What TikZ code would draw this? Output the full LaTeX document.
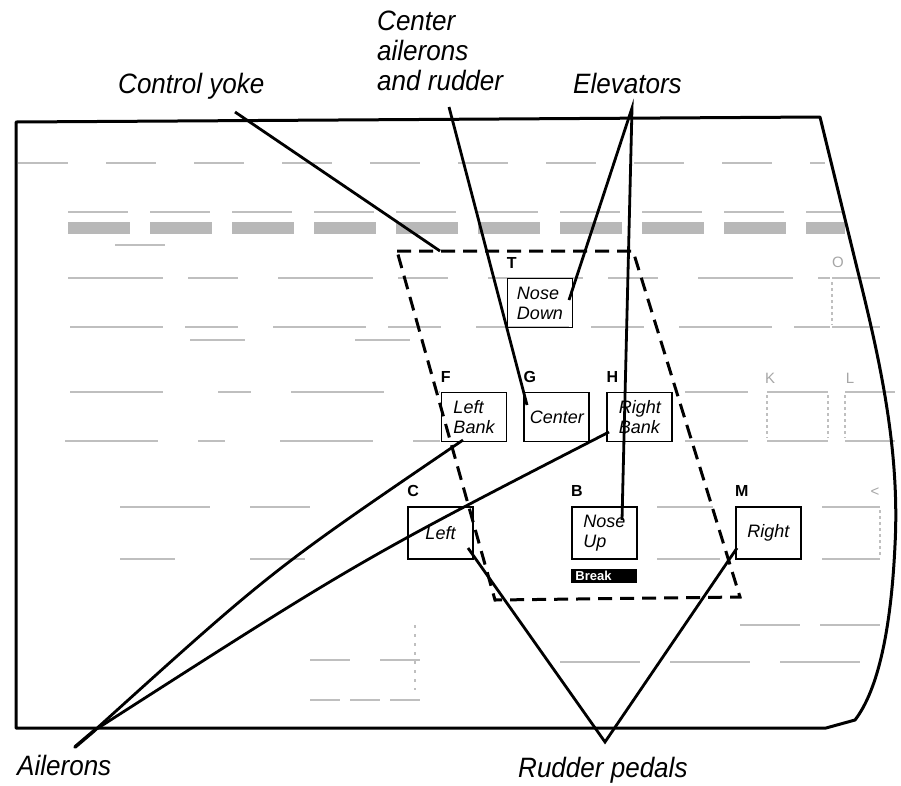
\documentclass[tikz,border=0pt]{standalone}
\usepackage{fontspec}
\setmainfont{Liberation Sans}
\newfontfamily\callfont[FakeStretch=0.93]{Liberation Sans}
\usepackage{tikz}
\usetikzlibrary{positioning}
\tikzset{
  keybox/.style={draw, line width=1.9pt, minimum width=65pt, minimum height=49pt,
                 inner sep=0pt, align=left, font=\itshape\fontsize{18}{20}\selectfont},
  lowkey/.style={minimum height=52pt},
  keyletter/.style={inner sep=0pt, font=\bfseries\fontsize{16}{16}\selectfont},
  breakbar/.style={fill=black, text=white, inner sep=0pt, minimum width=66pt,
                   minimum height=14pt, text width=58pt, align=left,
                   font=\bfseries\fontsize{13}{13}\selectfont},
  callout/.style={inner sep=0pt, font=\callfont\itshape\fontsize{28}{30}\selectfont},
  lead/.style={line width=2.8pt},
  yokeline/.style={line width=3pt, dash pattern=on 14pt off 8pt},
  rim/.style={line width=3pt, line join=round},
  faint/.style={draw=black!25, line width=1.1pt},
  faintkey/.style={text=black!35, inner sep=0pt, font=\fontsize{15}{15}\selectfont}
}

\begin{document}
\begin{tikzpicture}[x=1pt, y=-1pt]
\useasboundingbox (0,0) rectangle (901,785);

% faded keyboard behind the overlay
\draw[faint, dash pattern=on 50pt off 38pt] (18,163) -- (825,163);
\draw[faint, dash pattern=on 60pt off 22pt] (68,212) -- (845,212);
\draw[black!28, line width=12pt, dash pattern=on 62pt off 20pt] (68,228) -- (845,228);
\draw[faint] (115,245) -- (165,245);
\draw[faint, dash pattern=on 95pt off 25pt on 50pt off 40pt] (68,278) -- (830,278);
\draw[faint, dash pattern=on 93pt off 22pt on 53pt off 35pt] (70,327) -- (830,327);
\draw[faint, dash pattern=on 55pt off 110pt] (190,340) -- (420,340);
\draw[faint, dash pattern=on 93pt off 55pt on 33pt off 40pt] (70,392) -- (440,392);
\draw[faint, dash pattern=on 93pt off 40pt on 27pt off 55pt] (65,441) -- (440,441);
\draw[faint] (685,392) -- (748,392) (767,392) -- (828,392) (845,392) -- (895,392);
\draw[faint] (685,441) -- (748,441) (767,441) -- (828,441) (845,441) -- (895,441);
\draw[faint, dash pattern=on 3pt off 3pt] (767,395) -- (767,438) (828,395) -- (828,438)
  (845,395) -- (845,438) (832,282) -- (832,325);
\draw[faint] (832,278) -- (880,278) (832,327) -- (880,327);
\draw[faint, dash pattern=on 90pt off 40pt] (120,507) -- (310,507);
\draw[faint, dash pattern=on 55pt off 75pt] (120,559) -- (310,559);
\draw[faint] (657,507) -- (713,507) (657,559) -- (720,559);
\draw[faint] (822,507) -- (880,507) (822,559) -- (880,559);
\draw[faint, dash pattern=on 3pt off 3pt] (880,510) -- (880,556);
\draw[faint, dash pattern=on 60pt off 20pt] (740,625) -- (885,625);
\draw[faint, dash pattern=on 80pt off 30pt] (560,662) -- (878,662);
\draw[faint, dash pattern=on 40pt off 30pt] (310,660) -- (420,660);
\draw[faint, dash pattern=on 3pt off 6pt] (415,625) -- (415,690);
\draw[faint, dash pattern=on 30pt off 10pt] (310,700) -- (420,700);
\node[faintkey] (kO) at (838,262) {O};
\node[faintkey] (kK) at (770,378) {K};
\node[faintkey] (kL) at (850,378) {L};
\node[faintkey] (kLt) at (875,492) {<};

% keyboard outline
\draw[rim] (826,728) -- (16,728) -- (16,122) -- (820,117) -- (857,268)
  .. controls (880,360) and (900,450) .. (895,545)
  .. controls (891,630) and (878,690) .. (855,720) -- cycle;

% control yoke area
\draw[yokeline] (397,251) -- (633,251) -- (740,597) -- (495,600) -- cycle;

% keys
\node[keybox] (ndown) at (540,303) {Nose\\Down};
\node[keybox] (lbank) at (474,417) {Left\\Bank};
\node[keybox, right=16pt of lbank] (center) {Center};
\node[keybox, right=16pt of center] (rbank) {Right\\Bank};
\node[keybox, lowkey] (left) at (440.5,533) {Left};
\node[keybox, lowkey, right=97pt of left] (nup) {Nose\\Up};
\node[keybox, lowkey, right=97pt of nup] (right) {Right};
\node[breakbar, below=8.5pt of nup] (brk) {Break};

\node[keyletter, above right=9pt and 0pt of ndown.north west] (lT) {T};
\node[keyletter, above right=9pt and 0pt of lbank.north west] (lF) {F};
\node[keyletter, above right=9pt and 0pt of center.north west] (lG) {G};
\node[keyletter, above right=9pt and 0pt of rbank.north west] (lH) {H};
\node[keyletter, above right=9pt and 0pt of left.north west] (lC) {C};
\node[keyletter, above right=9pt and 0pt of nup.north west] (lB) {B};
\node[keyletter, above right=9pt and 0pt of right.north west] (lM) {M};

% callouts
\node[callout, anchor=base west] (yoke) at (118,93) {Control yoke};
\node[callout, anchor=north west, align=left] (ctr) at (377,10.5) {Center\\ailerons\\and rudder};
\node[callout, anchor=base west] (elev) at (573,93) {Elevators};
\node[callout, anchor=base west] (ail) at (17,775) {Ailerons};
\node[callout, anchor=base west] (pedals) at (518,777) {Rudder pedals};

\coordinate (yokeA) at (235,112);
\coordinate (yokeB) at (440,251);
\coordinate (ctrA) at (449,107);
\coordinate (ctrB) at (527,405);
\coordinate (elvA) at (632,108);
\coordinate (elvB) at (569,300);
\coordinate (elvC) at (622,520);
\coordinate (ailA) at (95,730);
\coordinate (ailS) at (75,747);
\coordinate (ailB) at (463,440);
\coordinate (ailC) at (609,432);
\coordinate (pedA) at (605,742);
\coordinate (pedB) at (468,548);
\coordinate (pedC) at (737,548);

% leaders
\draw[lead] (yokeA) -- (yokeB);
\draw[lead] (ctrA) -- (ctrB);
\draw[lead] (elvB) -- (elvA) -- (elvC);
\draw[lead] (ailA) .. controls (272,570) .. (ailB);
\draw[lead] (ailA) .. controls (360,560) .. (ailC);
\draw[lead, line width=3.6pt, line cap=round] (ailA) -- (ailS);
\draw[lead, line join=miter] (pedB) -- (pedA) -- (pedC);
\end{tikzpicture}
\end{document}
